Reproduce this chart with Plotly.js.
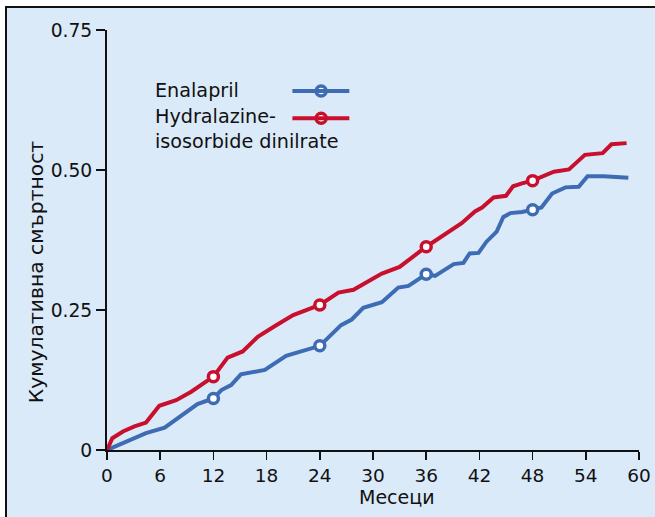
<!DOCTYPE html>
<html>
<head>
<meta charset="utf-8">
<script src="https://cdn.plot.ly/plotly-3.0.1.min.js"></script>
<style>
html,body{margin:0;padding:0;background:#fff;width:655px;height:517px;overflow:hidden;}
#wrap{position:absolute;left:5px;top:6px;width:648px;height:509px;border-left:2px solid #111;border-top:2px solid #111;background:#dbeaf8;}
#chart{width:648px;height:509px;}
</style>
</head>
<body>
<div id="wrap"><div id="chart"></div></div>
<script>
// Months and cumulative mortality
const enalaprilMonths = [0, 1.8, 4.4, 6.5, 8.4, 10.2, 12, 12.9, 14.0, 15.1, 17.8, 20.2, 24, 26.4, 27.6, 28.9, 31.0, 32.85, 34.0, 36, 37.0, 39.1, 40.2, 40.9, 41.9, 42.8, 43.95, 44.7, 45.5, 46.8, 48, 49.0, 50.2, 51.7, 53.2, 54.2, 56.0, 58.8];
const enalaprilValues = [0, 0.012, 0.030, 0.040, 0.062, 0.082, 0.092, 0.107, 0.116, 0.135, 0.143, 0.168, 0.186, 0.223, 0.233, 0.254, 0.264, 0.290, 0.293, 0.314, 0.311, 0.332, 0.334, 0.351, 0.352, 0.372, 0.390, 0.416, 0.423, 0.425, 0.429, 0.433, 0.458, 0.469, 0.470, 0.489, 0.489, 0.486];
const hydralazineMonths = [0, 0.6, 1.8, 3.1, 4.4, 5.9, 7.8, 9.5, 12, 13.6, 15.3, 17.0, 18.9, 21.0, 24, 26.1, 27.8, 31.0, 33.0, 36, 40.0, 41.5, 42.3, 43.6, 45.0, 45.8, 46.8, 48, 50.4, 52.1, 53.9, 55.9, 56.9, 58.6];
const hydralazineValues = [0, 0.021, 0.033, 0.042, 0.049, 0.079, 0.089, 0.104, 0.131, 0.165, 0.176, 0.202, 0.221, 0.241, 0.259, 0.281, 0.286, 0.315, 0.327, 0.363, 0.405, 0.426, 0.433, 0.451, 0.454, 0.471, 0.476, 0.481, 0.497, 0.501, 0.527, 0.530, 0.546, 0.548];
const markerMonths = [12, 24, 36, 48];
const enalaprilMarkers = [0.092, 0.186, 0.314, 0.429];
const hydralazineMarkers = [0.131, 0.259, 0.363, 0.481];
const xTicks = [0, 6, 12, 18, 24, 30, 36, 42, 48, 54, 60];
const yTicks = [0, 0.25, 0.5, 0.75];
const yTickLabels = ['0', '0.25', '0.50', '0.75'];
const seriesNames = ['Enalapril', 'Hydralazine-<br>isosorbide dinilrate'];
const xTitle = 'Месеци';
const yTitle = 'Кумулативна смъртност';

const BLUE = '#3d6cb4';
const RED = '#c8102e';
const FONT = 'DejaVu Sans, sans-serif';
const TXT = '#111';

const lineTrace = (x, y, c) => ({x, y, type: 'scatter', mode: 'lines', line: {color: c, width: 4}, showlegend: false, hoverinfo: 'skip'});
const markTrace = (x, y, c) => ({x, y, type: 'scatter', mode: 'markers', marker: {color: '#ffffff', size: 10, line: {color: c, width: 3.5}}, showlegend: false, hoverinfo: 'skip', cliponaxis: false});

const data = [
  lineTrace(enalaprilMonths, enalaprilValues, BLUE),
  lineTrace(hydralazineMonths, hydralazineValues, RED),
  markTrace(markerMonths, enalaprilMarkers, BLUE),
  markTrace(markerMonths, hydralazineMarkers, RED)
];

// legend samples (paper coordinates)
const legY = [0.855, 0.79];
const legColors = [BLUE, RED];
const shapes = legY.map((yy, i) => ({type: 'line', xref: 'paper', yref: 'paper', x0: 0.3485, x1: 0.4555, y0: yy, y1: yy, line: {color: legColors[i], width: 4}}));
data.push({
  x: [0.4025, 0.4025], y: legY, xaxis: 'x2', yaxis: 'y2', type: 'scatter', mode: 'markers',
  marker: {color: '#fff', size: 10, line: {color: legColors, width: 3.5}}, showlegend: false, hoverinfo: 'skip'
});

const f = (s) => ({family: FONT, size: s, color: TXT});
const annotations = [
  {xref: 'paper', yref: 'paper', x: 0.086, y: 0.855, xanchor: 'left', yanchor: 'middle', text: seriesNames[0], showarrow: false, font: f(19.2), align: 'left'},
  {xref: 'paper', yref: 'paper', x: 0.086, y: 0.765, xanchor: 'left', yanchor: 'middle', text: seriesNames[1], showarrow: false, font: f(19.2), align: 'left'},
  {xref: 'paper', yref: 'paper', x: 0.545, y: -0.113, xanchor: 'center', yanchor: 'middle', text: xTitle, showarrow: false, font: f(19)},
  {xref: 'paper', yref: 'paper', x: -0.133, y: 0.424, xanchor: 'center', yanchor: 'middle', text: yTitle, textangle: -90, showarrow: false, font: f(20.3)}
];

const layout = {
  width: 648, height: 509,
  margin: {l: 99.7, r: 15.7, t: 22, b: 67},
  paper_bgcolor: '#dbeaf8', plot_bgcolor: '#dbeaf8',
  font: f(18.5),
  xaxis: {
    range: [0, 60], tickvals: xTicks, ticktext: xTicks.map(String),
    showgrid: false, zeroline: false, showline: true, linecolor: TXT, linewidth: 2,
    ticks: 'outside', ticklen: 8, tickwidth: 1.5, tickcolor: TXT,
    tickfont: f(18.5)
  },
  yaxis: {
    range: [0, 0.75], tickvals: yTicks, ticktext: yTickLabels,
    showgrid: false, zeroline: false, showline: true, linecolor: TXT, linewidth: 2,
    ticks: 'outside', ticklen: 9, tickwidth: 1.5, tickcolor: TXT,
    tickfont: f(18.7)
  },
  xaxis2: {overlaying: 'x', range: [0, 1], visible: false, fixedrange: true},
  yaxis2: {overlaying: 'y', range: [0, 1], visible: false, fixedrange: true},
  shapes, annotations,
  showlegend: false
};

Plotly.newPlot('chart', data, layout, {displayModeBar: false, staticPlot: true});
</script>
</body>
</html>
